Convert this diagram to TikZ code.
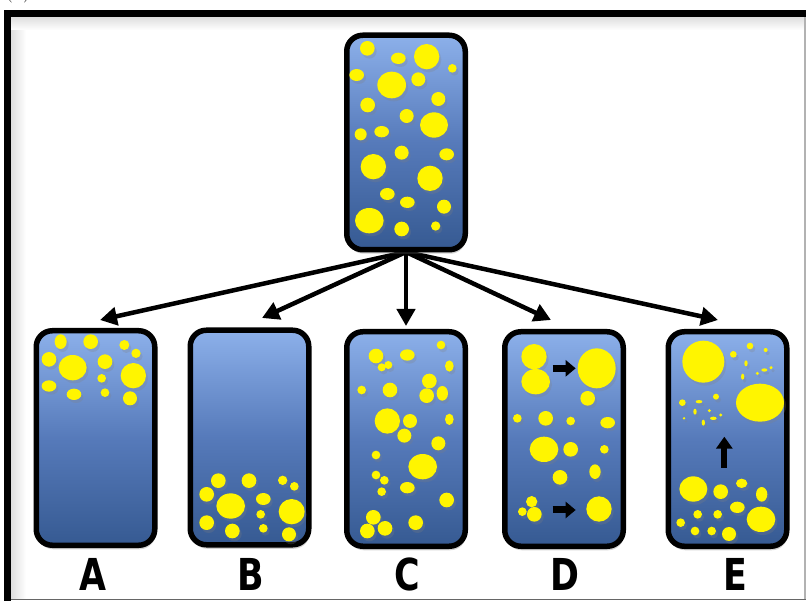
\documentclass[tikz,border=0pt]{standalone}
\usepackage{fontspec}
\newfontfamily\lblfont[FakeStretch=0.88]{DejaVu Sans Condensed Bold}
\usetikzlibrary{arrows.meta,shadows,calc}
\definecolor{tubetop}{RGB}{140,176,234}
\definecolor{tubemid}{RGB}{86,122,186}
\definecolor{tubebot}{RGB}{54,90,146}
\definecolor{bubblecol}{RGB}{255,245,0}
\begin{document}
\begin{tikzpicture}[x=1pt,y=-1pt,
  tube/.style={draw=black, line width=5.5pt, rounded corners=16pt,
    minimum width=118.5pt, minimum height=214.5pt, inner sep=0pt,
    top color=tubetop, bottom color=tubebot, middle color=tubemid,
    drop shadow={shadow xshift=1pt, shadow yshift=-4pt, opacity=0.35}},
  bubble/.style={fill=bubblecol,
    drop shadow={shadow xshift=2pt, shadow yshift=-3pt, opacity=0.25}},
  fanarrow/.style={line width=4.5pt, -{Triangle[length=17pt,width=18pt]}},
  blockarrow/.style={line width=7pt, -{Triangle[length=10pt,width=16pt]}},
  lbl/.style={font=\lblfont\fontsize{44}{44}\selectfont, inner sep=0pt}]

\useasboundingbox (0,0) rectangle (806,601);

% outer frame with its soft inner shadow
\shade[left color=black!14, right color=white] (10,16) rectangle (26,599);
\shade[top color=black!14, bottom color=white] (10,16) rectangle (806,30);
\draw[black!30, line width=1.5pt] (805,16) -- (805,599);
\draw[black!60, line width=1.5pt] (8,599.5) -- (806,599.5);
\draw[line width=6.5pt] (7.5,610) -- (7.5,13.5) -- (815,13.5);
\node[font=\fontsize{22}{22}\selectfont, anchor=south, inner sep=0pt] (tag) at (18,3.5) {(a)};

% tips of the fan of arrows
\coordinate (tA) at (100,320);
\coordinate (tB) at (262,318);
\coordinate (tC) at (406,326);
\coordinate (tD) at (551,320);
\coordinate (tE) at (718,320);
\coordinate (fan) at (406,252);

\foreach \t in {tA,tB,tC,tD,tE}
  \draw[fanarrow] (fan) -- (\t);

% containers
\node[tube] (top) at (406,142.5) {};
\node[tube] (A) at (95.5,438) {};
\node[tube] (B) at (249.5,437.5) {};
\node[tube] (C) at (406,439) {};
\node[tube] (D) at (564,439) {};
\node[tube] (E) at (727.5,439) {};

% bubbles, in local units of one third of a pixel
\begin{scope}[shift={(340,30)}, scale=1/3]
  \foreach \x/\y/\a/\b in {82/55/22/22, 175/85/22/17, 260/80/38/38, 337/115/13/13,
      50/135/22/18, 155/165/43/40, 235/148/21/21, 83/225/22/22, 295/207/21/21,
      200/258/21/21, 282/285/42/38, 62/313/18/18, 125/305/22/17, 185/368/21/21,
      320/373/22/18, 100/410/38/38, 270/445/38/38, 142/492/22/18, 202/517/22/17,
      312/530/21/21, 88/572/43/38, 185/597/22/22, 287/588/14/14}
    \fill[bubble] (\x,\y) ellipse [x radius=\a, y radius=\b];
\end{scope}

\begin{scope}[shift={(30,325)}, scale=1/3]
  \foreach \x/\y/\a/\b in {92/50/18/22, 182/50/22/22, 283/60/15/15, 318/85/14/14,
      57/103/22/22, 128/128/42/38, 225/110/22/22, 310/152/38/38, 215/160/13/13,
      57/183/22/17, 132/208/22/17, 225/203/13/13, 300/220/21/21}
    \fill[bubble] (\x,\y) ellipse [x radius=\a, y radius=\b];
\end{scope}

\begin{scope}[shift={(185,325)}, scale=1/3]
  \foreach \x/\y/\a/\b in {100/467/22/22, 192/467/22/22, 293/466/14/14, 328/484/13/13,
      65/508/22/22, 137/543/43/38, 235/522/22/18, 320/560/39/38, 227/568/13/13,
      65/593/22/22, 142/618/22/22, 235/610/13/13, 312/628/21/21}
    \fill[bubble] (\x,\y) ellipse [x radius=\a, y radius=\b];
\end{scope}

\begin{scope}[shift={(340,325)}, scale=1/3]
  \foreach \x/\y/\a/\b in {108/93/22/22, 125/127/12/12, 145/120/12/12, 202/90/22/17,
      303/60/13/13, 328/123/13/17, 65/195/13/13, 150/195/22/22, 268/168/22/22,
      260/212/22/22, 307/205/17/22, 142/288/38/38, 210/288/21/21, 193/332/21/21,
      328/283/13/17, 295/355/21/21, 108/390/13/13, 248/425/43/38, 108/450/13/13,
      133/466/13/13, 125/500/13/13, 202/488/22/17, 320/525/22/22, 100/577/22/22,
      82/618/22/22, 135/610/22/22, 227/593/22/22}
    \fill[bubble] (\x,\y) ellipse [x radius=\a, y radius=\b];
\end{scope}

\begin{scope}[shift={(500,325)}, scale=1/3]
  \foreach \x/\y/\a/\b in {102/95/38/38, 107/170/43/38, 290/130/57/60, 263/220/22/22,
      52/280/13/13, 137/280/22/22, 212/288/13/13, 323/293/22/17, 132/373/43/38,
      212/373/22/22, 313/373/13/13, 180/457/22/22, 285/440/17/22, 95/530/17/17,
      67/560/13/13, 103/568/22/22, 297/552/38/38}
    \fill[bubble] (\x,\y) ellipse [x radius=\a, y radius=\b];
  \coordinate (d1s) at (158,130); \coordinate (d1e) at (227,130);
  \coordinate (d2s) at (158,555); \coordinate (d2e) at (227,555);
  \draw[blockarrow] (d1s) -- (d1e);
  \draw[blockarrow] (d2s) -- (d2e);
\end{scope}

\begin{scope}[shift={(660,325)}, scale=1/3]
  \foreach \x/\y/\a/\b in {130/110/63/63, 220/88/10/10, 270/63/10/10, 317/75/6/6,
      258/115/5/9, 313/135/9/5, 333/128/5/5, 292/145/5/5, 248/155/5/9,
      300/233/72/57, 67/233/10/10, 117/230/10/5, 168/215/9/9, 105/260/5/9,
      148/257/5/5, 182/270/5/5, 160/280/10/5, 72/280/4/4, 130/293/5/9,
      100/492/42/38, 182/500/22/22, 245/475/17/14, 305/508/17/22, 232/547/22/17,
      113/568/13/13, 173/568/13/13, 303/583/43/38, 62/593/13/13, 105/618/13/13,
      155/618/13/13, 207/627/21/21}
    \fill[bubble] (\x,\y) ellipse [x radius=\a, y radius=\b];
  \coordinate (es) at (193,428); \coordinate (ee) at (193,335);
  \draw[line width=6pt, -{Triangle[length=12pt,width=16pt]}] (es) -- (ee);
\end{scope}

% labels
\node[lbl] (lA) at (93,574) {A};
\node[lbl] (lB) at (251,574) {B};
\node[lbl] (lC) at (407,574) {C};
\node[lbl] (lD) at (565,574) {D};
\node[lbl] (lE) at (735,574.5) {E};
\end{tikzpicture}
\end{document}
